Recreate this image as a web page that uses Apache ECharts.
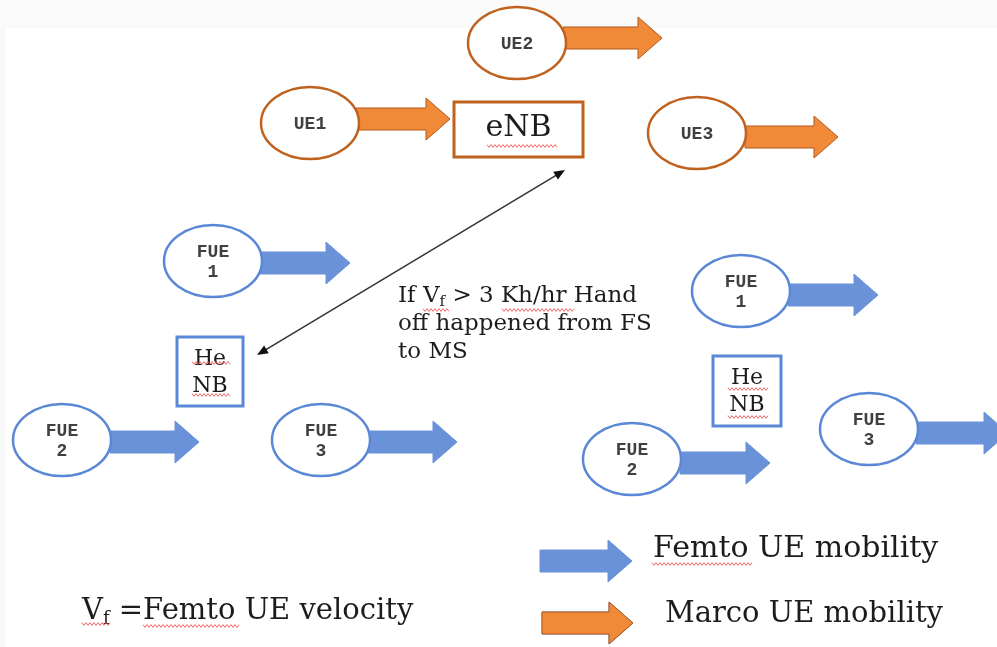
<!DOCTYPE html>
<html><head><meta charset="utf-8">
<script src="https://cdn.jsdelivr.net/npm/echarts@6/dist/echarts.min.js"></script>
<style>html,body{margin:0;padding:0;background:#fff}#main{width:997px;height:647px}</style>
</head><body><div id="main"></div>
<script>
// ---- diagram content ----
const macroUeLabels = ['UE1', 'UE2', 'UE3'];
const macroUeX = [310, 517, 697];
const macroUeY = [123, 43, 133];

const femtoUeLabels = ['FUE\n1', 'FUE\n2', 'FUE\n3', 'FUE\n1', 'FUE\n2', 'FUE\n3'];
const femtoUeX = [213, 62, 321, 741, 632, 869];
const femtoUeY = [261, 440, 440, 291, 459, 429];

const macroArrowFrom = [356, 563, 745];
const macroArrowTo = [450, 662, 838];
const macroArrowY = [119, 38, 137];

const femtoArrowFrom = [258, 110, 368, 788, 680, 916];
const femtoArrowTo = [350, 199, 457, 878, 770, 1008];
const femtoArrowY = [263, 442, 442, 295, 463, 433];

const stationLabels = ['eNB', 'He\nNB', 'He\nNB'];
const stationX0 = [454, 177, 713];
const stationX1 = [583, 243, 781];
const stationY0 = [102, 337, 356];
const stationY1 = [157, 406, 426];

const handoffFrom = [565, 170];
const handoffTo = [257, 355];

const noteLines = ['If V{s|f} > 3 Kh/hr Hand', 'off happened from FS', 'to MS'];
const noteX = 398;
const noteY = [296, 324, 352];

const legendLabels = ['Femto UE mobility', 'Marco UE mobility'];
const legendArrowFrom = [540, 542];
const legendArrowTo = [632, 633];
const legendArrowY = [561, 623];
const legendTextX = [653, 665];
const legendTextY = [549, 614];

const velocityText = 'V{s|f} =Femto UE velocity';
const velocityX = 82;
const velocityY = 611;

// spell-check squiggles [x0, x1, y]
const squiggleX0 = [487, 192, 192, 728, 728, 423, 502, 652, 82, 143];
const squiggleX1 = [557, 230, 230, 768, 768, 450, 575, 752, 110, 240];
const squiggleY = [146, 363, 395, 389, 417, 310, 310, 564, 624, 626];

// ---- styles ----
const ORANGE_LINE = '#c0621f';
const ORANGE_FILL = '#f08a38';
const ORANGE_EDGE = '#b4581a';
const BLUE_LINE = '#5b88d6';
const BLUE_FILL = '#6a92d8';
const TEXT = '#1c1c1c';
const SERIF = '"DejaVu Serif", serif';
const MONO = '"Liberation Mono", monospace';

function arrowSeries(from, to, ys, fill, edge) {
  return {
    type: 'custom', coordinateSystem: 'cartesian2d', z: 2, silent: true,
    data: from.map((x, i) => [x, to[i], ys[i]]),
    renderItem: function (params, api) {
      const a = api.coord([api.value(0), api.value(2)]);
      const b = api.coord([api.value(1), api.value(2)]);
      const h = 11, H = 21, L = 24;
      const y = a[1];
      return {
        type: 'polygon',
        shape: { points: [[a[0], y - h], [b[0] - L, y - h], [b[0] - L, y - H], [b[0], y], [b[0] - L, y + H], [b[0] - L, y + h], [a[0], y + h]] },
        style: { fill: fill, stroke: edge, lineWidth: 1 }
      };
    }
  };
}

function ellipseSeries(labels, xs, ys, stroke) {
  return {
    type: 'custom', coordinateSystem: 'cartesian2d', z: 3, silent: true,
    data: xs.map((x, i) => [x, ys[i], i]),
    renderItem: function (params, api) {
      const c = api.coord([api.value(0), api.value(1)]);
      const s = api.size([49, 36]);
      return {
        type: 'group', children: [
          { type: 'ellipse', shape: { cx: c[0], cy: c[1], rx: Math.abs(s[0]), ry: Math.abs(s[1]) }, style: { fill: '#fff', stroke: stroke, lineWidth: 2.5 } },
          { type: 'text', x: c[0], y: c[1] + 1, style: { text: labels[api.value(2)], fill: '#404040', font: 'bold 18px ' + MONO, align: 'center', verticalAlign: 'middle', lineHeight: 20 } }
        ]
      };
    }
  };
}

const option = {
  animation: false,
  backgroundColor: '#ffffff',
  grid: { left: 0, right: 0, top: 0, bottom: 0 },
  xAxis: { type: 'value', min: 0, max: 997, show: false },
  yAxis: { type: 'value', min: 0, max: 647, inverse: true, show: false },
  graphic: [
    { type: 'rect', shape: { x: 0, y: 0, width: 997, height: 28 }, style: { fill: '#fafafa' }, z: -10 },
    { type: 'rect', shape: { x: 0, y: 28, width: 6, height: 619 }, style: { fill: '#f8f8f8' }, z: -10 }
  ],
  series: [
    arrowSeries(macroArrowFrom, macroArrowTo, macroArrowY, ORANGE_FILL, ORANGE_EDGE),
    arrowSeries(femtoArrowFrom, femtoArrowTo, femtoArrowY, BLUE_FILL, BLUE_FILL),
    arrowSeries(legendArrowFrom, legendArrowTo, legendArrowY, BLUE_FILL, BLUE_FILL),
    arrowSeries([legendArrowFrom[1]], [legendArrowTo[1]], [legendArrowY[1]], ORANGE_FILL, ORANGE_EDGE),
    ellipseSeries(macroUeLabels, macroUeX, macroUeY, ORANGE_LINE),
    ellipseSeries(femtoUeLabels, femtoUeX, femtoUeY, BLUE_LINE),
    {
      // base stations
      type: 'custom', coordinateSystem: 'cartesian2d', z: 3, silent: true,
      data: stationX0.map((x, i) => [x, stationY0[i], stationX1[i], stationY1[i], i]),
      renderItem: function (params, api) {
        const p0 = api.coord([api.value(0), api.value(1)]);
        const p1 = api.coord([api.value(2), api.value(3)]);
        const i = api.value(4);
        const macro = i === 0;
        return {
          type: 'group', children: [
            { type: 'rect', shape: { x: p0[0], y: p0[1], width: p1[0] - p0[0], height: p1[1] - p0[1] }, style: { fill: '#fff', stroke: macro ? ORANGE_LINE : BLUE_LINE, lineWidth: 3 } },
            { type: 'text', x: (p0[0] + p1[0]) / 2, y: (p0[1] + p1[1]) / 2 + (macro ? -1 : 1), style: { text: stationLabels[i], fill: TEXT, font: (macro ? '30px ' : '22px ') + SERIF, align: 'center', verticalAlign: 'middle', lineHeight: 27 } }
          ]
        };
      }
    },
    {
      // handoff double-headed arrow
      type: 'custom', coordinateSystem: 'cartesian2d', z: 4, silent: true,
      data: [[handoffFrom[0], handoffFrom[1], handoffTo[0], handoffTo[1]]],
      renderItem: function (params, api) {
        const a = api.coord([api.value(0), api.value(1)]);
        const b = api.coord([api.value(2), api.value(3)]);
        const dx = b[0] - a[0], dy = b[1] - a[1];
        const len = Math.sqrt(dx * dx + dy * dy);
        const ux = dx / len, uy = dy / len, px = -uy, py = ux;
        const hl = 11, hw = 4.5;
        function head(tip, dir) {
          const bx = tip[0] - dir * ux * hl, by = tip[1] - dir * uy * hl;
          return { type: 'polygon', shape: { points: [tip, [bx + px * hw, by + py * hw], [bx - px * hw, by - py * hw]] }, style: { fill: '#111' } };
        }
        return {
          type: 'group', children: [
            { type: 'line', shape: { x1: a[0] + ux * 8, y1: a[1] + uy * 8, x2: b[0] - ux * 8, y2: b[1] - uy * 8 }, style: { stroke: '#333', lineWidth: 1.5 } },
            head(a, -1), head(b, 1)
          ]
        };
      }
    },
    {
      // note text
      type: 'custom', coordinateSystem: 'cartesian2d', z: 4, silent: true,
      data: noteLines.map((t, i) => [noteX, noteY[i], i]),
      renderItem: function (params, api) {
        const p = api.coord([api.value(0), api.value(1)]);
        return { type: 'text', x: p[0], y: p[1], style: { text: noteLines[api.value(2)], fill: TEXT, font: '23px ' + SERIF, align: 'left', verticalAlign: 'middle',
          rich: { s: { font: '15px ' + SERIF, fill: TEXT, padding: [12, 0, 0, 0] } } } };
      }
    },
    {
      // legend labels + velocity definition
      type: 'custom', coordinateSystem: 'cartesian2d', z: 4, silent: true,
      data: [[legendTextX[0], legendTextY[0], 0], [legendTextX[1], legendTextY[1], 1], [velocityX, velocityY, 2]],
      renderItem: function (params, api) {
        const p = api.coord([api.value(0), api.value(1)]);
        const i = api.value(2);
        const txt = i < 2 ? legendLabels[i] : velocityText;
        return { type: 'text', x: p[0], y: p[1], style: { text: txt, fill: TEXT, font: (i === 0 ? '30px ' : '29px ') + SERIF, align: 'left', verticalAlign: 'middle',
          rich: { s: { font: '18px ' + SERIF, fill: TEXT, padding: [16, 0, 0, 0] } } } };
      }
    },
    {
      // red spell-check squiggles
      type: 'custom', coordinateSystem: 'cartesian2d', z: 5, silent: true,
      data: squiggleX0.map((x, i) => [x, squiggleX1[i], squiggleY[i]]),
      renderItem: function (params, api) {
        const a = api.coord([api.value(0), api.value(2)]);
        const b = api.coord([api.value(1), api.value(2)]);
        const pts = [];
        let k = 0;
        for (let x = a[0]; x <= b[0]; x += 2, k++) pts.push([x, a[1] + (k % 2 ? 1.4 : -1.4)]);
        return { type: 'polyline', shape: { points: pts }, style: { stroke: '#f05050', lineWidth: 1, fill: null, opacity: 0.85 } };
      }
    }
  ]
};

const chart = echarts.init(document.getElementById('main'), null, { renderer: 'canvas' });
chart.setOption(option);
</script>
</body></html>
